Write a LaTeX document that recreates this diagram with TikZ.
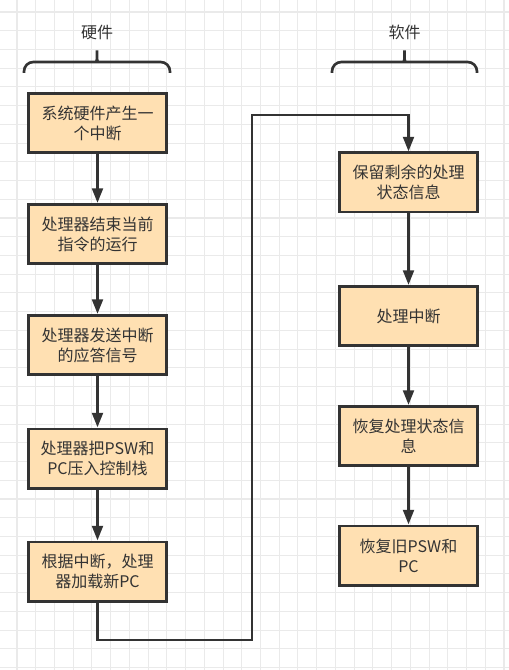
\documentclass[tikz,border=0pt]{standalone}
\usepackage{fontspec}
\setmainfont{Noto Sans CJK SC}
\usetikzlibrary{arrows.meta, backgrounds}

\definecolor{boxfill}{RGB}{255,224,178}
\definecolor{inkgray}{RGB}{51,51,51}
\definecolor{gridgray}{RGB}{234,234,234}

\begin{document}
\begin{tikzpicture}[x=0.75pt, y=-0.75pt,
    every node/.style={font=\fontsize{12}{15}\selectfont, text=inkgray},
    proc/.style={rectangle, draw=inkgray, line width=2.2pt, fill=boxfill, minimum width=103.5pt, minimum height=44.3pt, align=center, inner sep=0pt},
    brace/.style={draw=inkgray, line width=2pt, rounded corners=7pt},
    gridline/.style={draw=gridgray, line width=0.8pt},
    arrow/.style={-{Triangle[length=11pt, width=8pt]}, line width=2.2pt, draw=inkgray}]

  \useasboundingbox (0,0) rectangle (509,670);

  \begin{scope}[on background layer]
    \fill[white] (0,0) rectangle (509,670);
    \foreach \i in {0,...,26}
      \draw[gridline] ({17+18.73*\i},0) -- ({17+18.73*\i},670);
    \foreach \j in {0,...,35}
      \draw[gridline] (0,{12+18.73*\j}) -- (509,{12+18.73*\j});
  \end{scope}

  % hardware side
  \node (hwLabel) at (97,32) {硬件};
  \draw[brace] (24,73) -- (24,62) -- (89,62) to[out=0, in=-90] (97,45)
               to[out=-90, in=180] (105,62) -- (170,62) -- (170,73);

  \node[proc] (h1) at (97.5,123)   {系统硬件产生一\\个中断};
  \node[proc] (h2) at (97.5,234)   {处理器结束当前\\指令的运行};
  \node[proc] (h3) at (97.5,345)   {处理器发送中断\\的应答信号};
  \node[proc] (h4) at (97.5,458.5) {处理器把PSW和\\PC压入控制栈};
  \node[proc] (h5) at (97.5,571.5) {根据中断，处理\\器加载新PC};

  % software side
  \node (swLabel) at (404.5,32) {软件};
  \draw[brace] (332,73) -- (332,62) -- (396.5,62) to[out=0, in=-90] (404.5,45)
               to[out=-90, in=180] (412.5,62) -- (477,62) -- (477,73);

  \node[proc] (s1) at (408.5,182.5) {保留剩余的处理\\状态信息};
  \node[proc] (s2) at (408.5,316)   {处理中断};
  \node[proc] (s3) at (408.5,436)   {恢复处理状态信\\息};
  \node[proc] (s4) at (408.5,555.5) {恢复旧PSW和\\PC};

  \coordinate (c1) at (252,640);
  \coordinate (c2) at (252,115);

  \draw[arrow] (h1) -- (h2);
  \draw[arrow] (h2) -- (h3);
  \draw[arrow] (h3) -- (h4);
  \draw[arrow] (h4) -- (h5);
  \draw[arrow] (h5.south) |- (c1) -- (c2) -| (s1.north);
  \draw[arrow] (s1) -- (s2);
  \draw[arrow] (s2) -- (s3);
  \draw[arrow] (s3) -- (s4);
\end{tikzpicture}
\end{document}
